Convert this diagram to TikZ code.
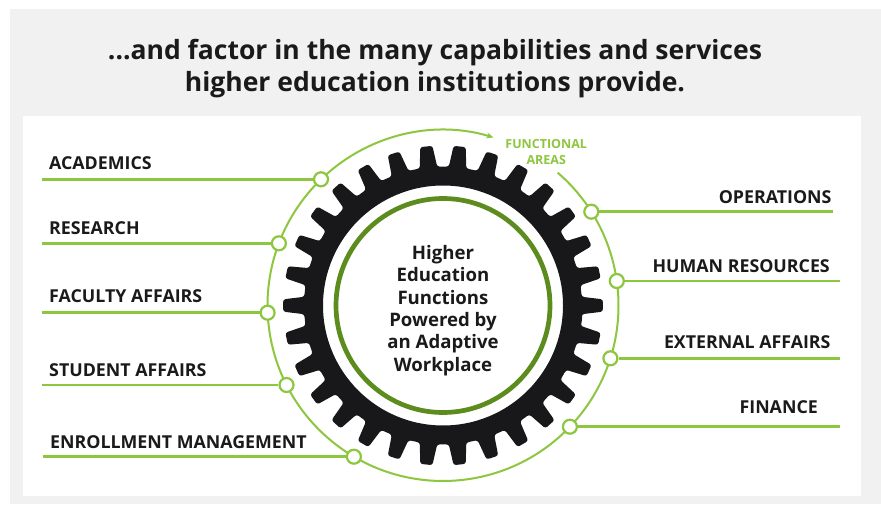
\documentclass[tikz,border=0pt]{standalone}
\usepackage{fontspec}
\setmainfont{Open Sans}
\usetikzlibrary{arrows.meta,calc}
\definecolor{lgreen}{RGB}{141,198,63}
\definecolor{dgreen}{RGB}{92,140,30}
\definecolor{ink}{RGB}{26,26,26}
\definecolor{gearblack}{RGB}{24,24,26}
\definecolor{panelgrey}{RGB}{241,241,241}
\begin{document}
\begin{tikzpicture}[x=1pt,y=1pt,
  titletext/.style={font=\fontsize{26.5}{33}\selectfont\bfseries, text=ink, inner sep=0pt},
  area/.style={font=\fontsize{17.8}{20}\selectfont\bfseries, text=ink, inner sep=0pt},
  hub/.style={circle, draw=lgreen, line width=2.2pt, fill=white, minimum size=14pt, inner sep=0pt},
  feed/.style={draw=lgreen, line width=2.8pt},
  ringline/.style={draw=lgreen, line width=2pt}]
\useasboundingbox (0,0) rectangle (881,504);
\fill[white] (0,0) rectangle (881,504);
\fill[panelgrey] (10,0) rectangle (881,495);
\fill[white] (23,8) rectangle (861,388);
% title
\node[titletext, anchor=base] (t1) at (435,444.7) {...and factor in the many capabilities and services};
\node[titletext, anchor=base] (t2) at (435,412.3) {higher education institutions provide.};
% gear
\coordinate (c) at (443,198.5);
\begin{scope}[shift={(c)}]
\fill[gearblack, even odd rule, rounded corners=2.5pt] (-6:140pt)
  \foreach \k in {0,...,29}{ -- (\k*12-3.6:139pt) -- (\k*12-2.2:160pt) -- (\k*12+2.2:160pt) -- (\k*12+3.6:139pt)} -- cycle
  [sharp corners] (0,0) circle[radius=120pt];
\end{scope}
% core
\node[circle, draw=dgreen, line width=4.7pt, minimum size=214pt, inner sep=0pt] (core) at (c) {};
\node[align=center, inner sep=0pt, font=\fontsize{18.6}{22.3}\selectfont\bfseries, text=ink] (coretext) at ($(c)+(0,-5)$)
      {Higher\\Education\\Functions\\Powered by\\an Adaptive\\Workplace};
% ring with arrow
\draw[ringline, -{Stealth[length=7pt, width=6pt]}] ($(c)+(49.2:175.5pt)$) arc[start angle=49.2, end angle=-286.7, radius=175.5pt];
\node[font=\fontsize{12.5}{16}\selectfont\bfseries, text=lgreen, align=center, inner sep=0pt] (fa) at (546.2,351.5) {FUNCTIONAL\\AREAS};
% left hubs
\node[hub] (acad) at (321.0,324.7) {};
\node[hub] (res) at (278.9,260.7) {};
\node[hub] (fac) at (267.6,191.3) {};
\node[hub] (stu) at (286.5,119) {};
\node[hub] (enr) at (353.9,47.3) {};
% right hubs
\node[hub] (ops) at (591.3,292.3) {};
\node[hub] (hr) at (616.8,223) {};
\node[hub] (ext) at (610.4,145.7) {};
\node[hub] (fin) at (569.9,77.3) {};
% line ends
\coordinate (acadend) at (42,324.7);
\coordinate (resend) at (42,260.7);
\coordinate (facend) at (42,191.3);
\coordinate (stuend) at (42,119);
\coordinate (enrend) at (43,47.3);
\coordinate (opsend) at (833,292.3);
\coordinate (hrend) at (840,223);
\coordinate (extend) at (840,145.7);
\coordinate (finend) at (840,77.3);
\draw[feed] (acadend) -- (acad.west);
\draw[feed] (resend) -- (res.west);
\draw[feed] (facend) -- (fac.west);
\draw[feed] (stuend) -- (stu.west);
\draw[feed] (enrend) -- (enr.west);
\draw[feed] (ops.east) -- (opsend);
\draw[feed] (hr.east) -- (hrend);
\draw[feed] (ext.east) -- (extend);
\draw[feed] (fin.east) -- (finend);
% labels
\node[area, anchor=base west] (acadl) at (49,334) {ACADEMICS};
\node[area, anchor=base west] (resl) at (49,269) {RESEARCH};
\node[area, anchor=base west] (facl) at (49,201) {FACULTY AFFAIRS};
\node[area, anchor=base west] (stul) at (49,128) {STUDENT AFFAIRS};
\node[area, anchor=base west] (enrl) at (50,56) {ENROLLMENT MANAGEMENT};
\node[area, anchor=base east] (opsl) at (831.7,300.7) {OPERATIONS};
\node[area, anchor=base east] (hrl) at (830,231.3) {HUMAN RESOURCES};
\node[area, anchor=base east] (extl) at (830.7,156) {EXTERNAL AFFAIRS};
\node[area, anchor=base east] (finl) at (818,91) {FINANCE};
\end{tikzpicture}
\end{document}
